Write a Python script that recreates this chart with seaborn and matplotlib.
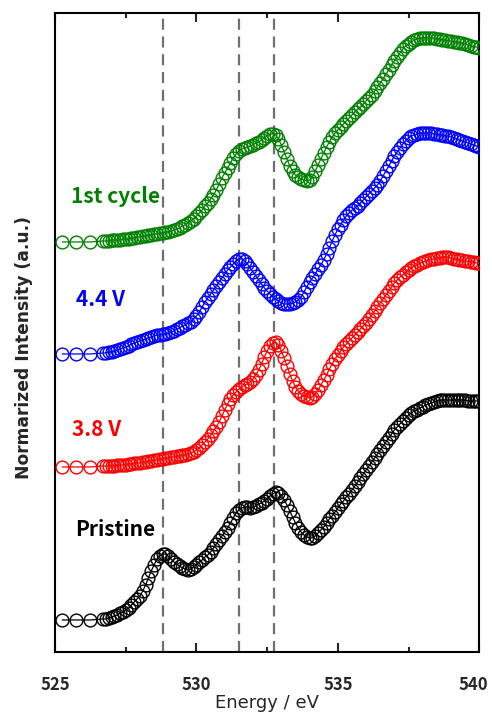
import numpy as np
import pandas as pd
import matplotlib
matplotlib.use('Agg')
import matplotlib.pyplot as plt
import matplotlib.transforms as mtransforms
import seaborn as sns

# energy grid: three sparse pre-edge points, then 0.1 eV steps
energy = [525.25, 525.75, 526.25] + list(np.round(np.arange(526.7, 540.05, 0.1), 1))

pristine = [0.00, 0.00, 0.00,
            0.01, 0.01, 0.02, 0.03, 0.04, 0.05, 0.07, 0.08, 0.10, 0.12,
            0.15, 0.18, 0.21, 0.24, 0.29, 0.35, 0.42, 0.49, 0.55, 0.61,
            0.64, 0.66, 0.66, 0.64, 0.61, 0.58, 0.56, 0.54, 0.52, 0.51,
            0.50, 0.51, 0.53, 0.55, 0.58, 0.60, 0.63, 0.65, 0.68, 0.72,
            0.76, 0.80, 0.84, 0.88, 0.92, 0.97, 1.02, 1.07, 1.10, 1.12,
            1.13, 1.13, 1.12, 1.13, 1.14, 1.16, 1.17, 1.19, 1.21, 1.24,
            1.26, 1.28, 1.27, 1.24, 1.20, 1.15, 1.09, 1.03, 0.97, 0.92,
            0.88, 0.85, 0.83, 0.82, 0.82, 0.84, 0.87, 0.90, 0.93, 0.97,
            1.01, 1.04, 1.08, 1.12, 1.16, 1.19, 1.23, 1.26, 1.30, 1.34,
            1.38, 1.42, 1.46, 1.50, 1.54, 1.58, 1.62, 1.66, 1.70, 1.74,
            1.78, 1.82, 1.86, 1.90, 1.93, 1.96, 1.99, 2.02, 2.05, 2.07,
            2.09, 2.10, 2.12, 2.13, 2.15, 2.16, 2.17, 2.18, 2.19, 2.20,
            2.20, 2.20, 2.20, 2.20, 2.20, 2.20, 2.20, 2.20, 2.20, 2.19,
            2.19, 2.19, 2.19, 2.19]

v38 = [0.00, 0.00, 0.00,
       0.01, 0.01, 0.01, 0.01, 0.01, 0.02, 0.02, 0.02, 0.02, 0.03,
       0.03, 0.04, 0.04, 0.04, 0.05, 0.05, 0.06, 0.06, 0.07, 0.07,
       0.08, 0.08, 0.09, 0.09, 0.10, 0.10, 0.11, 0.11, 0.12, 0.12,
       0.13, 0.14, 0.15, 0.17, 0.19, 0.22, 0.25, 0.28, 0.32, 0.36,
       0.40, 0.45, 0.51, 0.57, 0.63, 0.68, 0.72, 0.75, 0.78, 0.80,
       0.82, 0.83, 0.85, 0.88, 0.92, 0.97, 1.03, 1.10, 1.16, 1.21,
       1.24, 1.25, 1.22, 1.16, 1.09, 1.01, 0.93, 0.86, 0.80, 0.76,
       0.73, 0.71, 0.70, 0.69, 0.70, 0.73, 0.77, 0.82, 0.87, 0.92,
       0.98, 1.03, 1.08, 1.12, 1.16, 1.20, 1.23, 1.26, 1.29, 1.32,
       1.35, 1.38, 1.41, 1.44, 1.48, 1.52, 1.56, 1.60, 1.64, 1.68,
       1.72, 1.76, 1.80, 1.84, 1.87, 1.90, 1.92, 1.95, 1.97, 1.99,
       2.01, 2.02, 2.04, 2.05, 2.06, 2.07, 2.08, 2.08, 2.09, 2.09,
       2.10, 2.10, 2.10, 2.09, 2.08, 2.08, 2.07, 2.07, 2.06, 2.06,
       2.05, 2.05, 2.04, 2.04]

v44 = [0.00, 0.00, 0.00,
       0.01, 0.01, 0.02, 0.02, 0.03, 0.04, 0.05, 0.06, 0.07, 0.08,
       0.10, 0.11, 0.12, 0.13, 0.14, 0.15, 0.16, 0.17, 0.18, 0.19,
       0.19, 0.20, 0.20, 0.21, 0.22, 0.23, 0.25, 0.26, 0.28, 0.29,
       0.31, 0.32, 0.35, 0.38, 0.42, 0.47, 0.52, 0.56, 0.60, 0.64,
       0.68, 0.72, 0.76, 0.80, 0.84, 0.87, 0.90, 0.93, 0.95, 0.95,
       0.93, 0.90, 0.86, 0.82, 0.78, 0.74, 0.70, 0.66, 0.63, 0.60,
       0.57, 0.55, 0.53, 0.51, 0.50, 0.50, 0.50, 0.51, 0.52, 0.54,
       0.57, 0.62, 0.67, 0.72, 0.76, 0.80, 0.85, 0.89, 0.94, 1.00,
       1.06, 1.13, 1.19, 1.25, 1.29, 1.34, 1.38, 1.41, 1.44, 1.46,
       1.48, 1.51, 1.54, 1.57, 1.60, 1.63, 1.66, 1.69, 1.73, 1.78,
       1.83, 1.88, 1.93, 1.98, 2.02, 2.06, 2.10, 2.13, 2.16, 2.18,
       2.19, 2.20, 2.21, 2.21, 2.21, 2.21, 2.21, 2.20, 2.20, 2.19,
       2.19, 2.18, 2.18, 2.17, 2.16, 2.15, 2.14, 2.13, 2.12, 2.11,
       2.10, 2.09, 2.08, 2.07]

cycle1 = [0.00, 0.00, 0.00,
          0.01, 0.01, 0.01, 0.02, 0.02, 0.02, 0.02, 0.03, 0.03, 0.03,
          0.04, 0.04, 0.05, 0.05, 0.06, 0.06, 0.07, 0.07, 0.08, 0.08,
          0.09, 0.09, 0.10, 0.10, 0.11, 0.12, 0.13, 0.14, 0.16, 0.17,
          0.19, 0.21, 0.23, 0.26, 0.29, 0.32, 0.36, 0.39, 0.43, 0.47,
          0.52, 0.58, 0.64, 0.69, 0.74, 0.79, 0.84, 0.88, 0.91, 0.93,
          0.94, 0.95, 0.96, 0.97, 0.99, 1.00, 1.02, 1.04, 1.06, 1.08,
          1.08, 1.07, 1.03, 0.97, 0.90, 0.83, 0.76, 0.71, 0.67, 0.65,
          0.63, 0.62, 0.61, 0.62, 0.65, 0.71, 0.77, 0.83, 0.89, 0.95,
          1.00, 1.05, 1.09, 1.12, 1.15, 1.18, 1.21, 1.24, 1.27, 1.30,
          1.33, 1.35, 1.38, 1.41, 1.44, 1.47, 1.51, 1.55, 1.59, 1.63,
          1.68, 1.72, 1.77, 1.81, 1.85, 1.89, 1.93, 1.96, 1.98, 2.00,
          2.02, 2.03, 2.04, 2.04, 2.04, 2.04, 2.04, 2.04, 2.03, 2.03,
          2.02, 2.02, 2.01, 2.01, 2.00, 2.00, 1.99, 1.99, 1.98, 1.97,
          1.96, 1.95, 1.95, 1.94]

labels = ['Pristine', '3.8 V', '4.4 V', '1st cycle']
offsets = [0.32, 1.85, 2.98, 4.10]
colors = ['black', 'red', 'blue', 'green']
label_pos = [(525.7, 1.22), (525.6, 2.22), (525.75, 3.52), (525.55, 4.55)]
peak_lines = [528.8, 531.5, 532.75]
tick_vals = [525, 530, 535, 540]
tick_labels = ['525', '530', '535', '540']

rows = []
for lab, spec, off in zip(labels, [pristine, v38, v44, cycle1], offsets):
    for e, v in zip(energy, spec):
        rows.append({'energy': e, 'intensity': v + off, 'sample': lab})
df = pd.DataFrame(rows)

sns.set_style('ticks')
plt.rcParams['font.family'] = ['DejaVu Sans']

fig = plt.figure(figsize=(4.92, 7.13), dpi=100)
ax = fig.add_axes([0.112, 0.0856, 0.862, 0.8962])

for x in peak_lines:
    ax.axvline(x, color='#707070', lw=1.6, ls=(0, (5, 3)), zorder=1)

for lab, col in zip(labels, colors):
    sns.lineplot(data=df[df['sample'] == lab], x='energy', y='intensity',
                 color=col, marker='o', markersize=9.2, markerfacecolor='none',
                 markeredgecolor=col, markeredgewidth=1.0, linewidth=0.9,
                 estimator=None, sort=False, ax=ax, zorder=3)

for lab, col, (tx, ty) in zip(labels, colors, label_pos):
    ax.text(tx, ty, lab, color=col, fontsize=15, fontweight='bold',
            family=['Noto Sans CJK JP', 'DejaVu Sans'], ha='left', va='center')

ax.set_xlim(525, 540)
ax.set_ylim(0, 6.39)
ax.set_xticks(tick_vals)
ax.set_xticks([527.5, 532.5, 537.5], minor=True)
ax.set_xticklabels(tick_labels, fontsize=12, fontweight='bold',
                   family=['Noto Sans CJK JP', 'DejaVu Sans'])
ax.set_yticks([])
ax.tick_params(axis='x', which='both', direction='in', top=True, width=1.5, pad=17)
ax.tick_params(axis='x', which='major', length=6.5)
ax.tick_params(axis='x', which='minor', length=3.6)
for s in ax.spines.values():
    s.set_linewidth(1.5)
    s.set_color('black')

# nudge the last tick label a little so it stays inside the figure
last = ax.get_xticklabels()[-1]
last.set_transform(last.get_transform() +
                   mtransforms.ScaledTranslation(-4 / 72, 0, fig.dpi_scale_trans))

ax.set_xlabel('Energy / eV', fontsize=13, labelpad=0)
ax.set_ylabel('Normarized Intensity (a.u.)', fontsize=12.3, fontweight='bold')
ax.yaxis.set_label_coords(-0.052, 0.476)

fig.savefig('out.png', dpi=100)
